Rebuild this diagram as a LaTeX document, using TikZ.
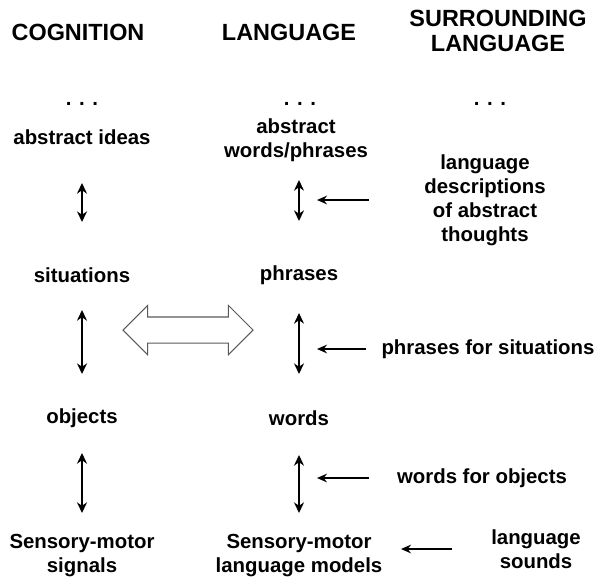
\documentclass[tikz,border=0pt]{standalone}
\usepackage{fontspec}
\setmainfont{Liberation Sans}
\usetikzlibrary{arrows.meta,shapes.arrows}

\begin{document}
\begin{tikzpicture}[x=0.03cm, y=-0.03cm]
        \tikzstyle{every node}=[font=\bfseries\fontsize{17.4}{20.5}\selectfont, align=center, inner sep=1pt]
        \tikzstyle{head}=[font=\bfseries\fontsize{20}{21.5}\selectfont]
        \tikzstyle{updown}=[{Stealth[length=3.2mm,width=3mm]}-{Stealth[length=3.2mm,width=3mm]}, line width=2pt]
        \tikzstyle{feed}=[-{Stealth[length=3mm,width=2.6mm]}, line width=1.3pt]
        \useasboundingbox (0,0) rectangle (600,579);
        \node[head] (cog) at (78,32) {COGNITION};
        \node[head] (lang) at (289,32) {LANGUAGE};
        \node[head] (surr) at (498,31) {SURROUNDING\\LANGUAGE};
        \node (dots1) at (82,104) {. . .};
        \node (dots2) at (300,104) {. . .};
        \node (dots3) at (490,104) {. . .};
        \node (ideas) at (82,137) {abstract ideas};
        \node (absw) at (296,140) {abstract\\words/phrases};
        \node (desc) at (485,200) {language\\descriptions\\of abstract\\thoughts};
        \node (sit) at (82,275) {situations};
        \node (phr) at (299,275) {phrases};
        \node (phrsit) at (488,349) {phrases for situations};
        \node (obj) at (82,418) {objects};
        \node (wrd) at (299,418) {words};
        \node (wrdobj) at (482,478) {words for objects};
        \node (sms) at (82,556) {Sensory-motor\\signals};
        \node (sml) at (299,556) {Sensory-motor\\language models};
        \node (sounds) at (536,549) {language\\sounds};
        \node[double arrow, draw=black!65, line width=0.9pt, fill=white, minimum height=3.9cm, minimum width=1.44cm, double arrow head extend=0.35cm, inner xsep=0pt, inner ysep=0.375cm] (bigarr) at (188,330) {};
        \draw[updown, shorten <=1.38cm, shorten >=1.59cm] (ideas.center) -- (sit.center);
        \draw[updown, shorten <=1.05cm, shorten >=1.32cm] (sit.center) -- (obj.center);
        \draw[updown, shorten <=1.05cm, shorten >=1.29cm] (obj.center) -- (sms.center);
        \draw[updown, line width=1.6pt, shorten <=1.2cm, shorten >=1.62cm] (absw.center -| phr.center) -- (phr.center);
        \draw[updown, line width=1.6pt, shorten <=1.14cm, shorten >=1.32cm] (phr.center) -- (wrd.center);
        \draw[updown, line width=1.6pt, shorten <=1.11cm, shorten >=1.29cm] (wrd.center) -- (sml.center);
        \draw[feed, shorten <=3.48cm, shorten >=0.54cm] (desc.center) -- (desc.center -| phr.center);
        \draw[feed, shorten <=3.66cm, shorten >=0.54cm] (phrsit.center) -- (phrsit.center -| phr.center);
        \draw[feed, shorten <=3.39cm, shorten >=0.54cm] (wrdobj.center) -- (wrdobj.center -| wrd.center);
        \draw[feed, shorten <=2.52cm, shorten >=3.06cm] (sounds.center) -- (sounds.center -| sml.center);
\end{tikzpicture}
\end{document}
